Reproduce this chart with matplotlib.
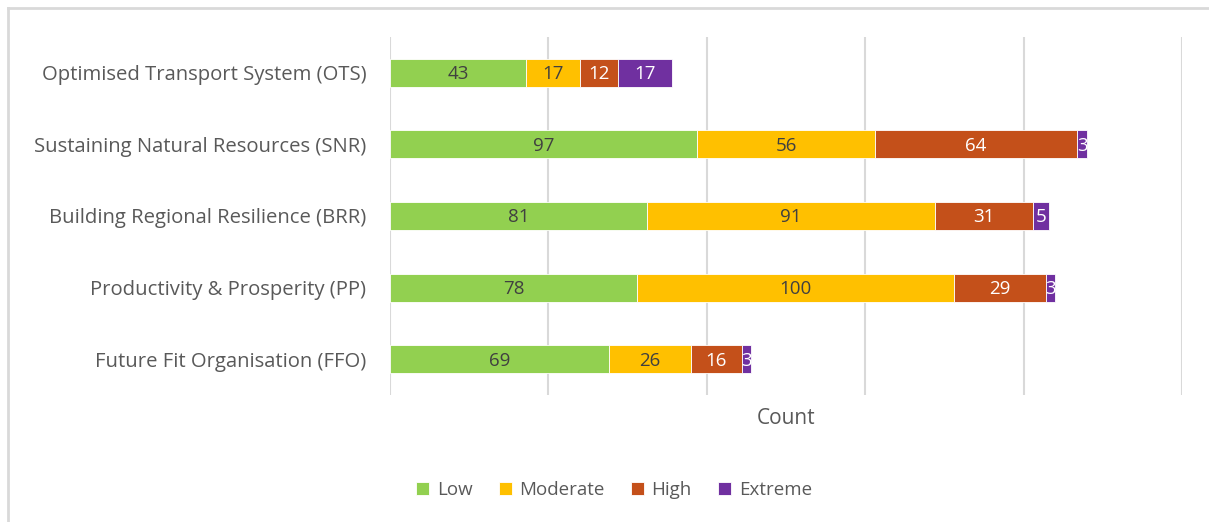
import matplotlib
matplotlib.use("Agg")
import matplotlib.pyplot as plt
from matplotlib.lines import Line2D
import numpy as np

plt.rcParams['font.family'] = ['Open Sans', 'DejaVu Sans']

categories = [
    "Optimised Transport System (OTS)",
    "Sustaining Natural Resources (SNR)",
    "Building Regional Resilience (BRR)",
    "Productivity & Prosperity (PP)",
    "Future Fit Organisation (FFO)",
]
low = [43, 97, 81, 78, 69]
moderate = [17, 56, 91, 100, 26]
high = [12, 64, 31, 29, 16]
extreme = [17, 3, 5, 3, 3]

series = [
    ("Low", low, "#92D050", "#404040"),
    ("Moderate", moderate, "#FFC000", "#404040"),
    ("High", high, "#C4501A", "white"),
    ("Extreme", extreme, "#7030A0", "white"),
]

fig = plt.figure(figsize=(12.09, 5.22), dpi=100)
ax = fig.add_axes([390 / 1209, 1 - 395 / 522, (1182 - 390) / 1209, (395 - 37) / 522])

# chart area frame, only top and left edges are inside the image
fx, fy = 7.5 / 1209, 1 - 7.5 / 522
fig.lines.append(Line2D([fx, 1.0], [fy, fy], transform=fig.transFigure,
                        color="#d9d9d9", linewidth=2))
fig.lines.append(Line2D([fx, fx], [0.0, fy], transform=fig.transFigure,
                        color="#d9d9d9", linewidth=2))

y = np.arange(len(categories))
left = np.zeros(len(categories))
for name, vals, col, tcol in series:
    vals = np.array(vals)
    bars = ax.barh(y, vals, left=left, height=0.39, color=col, label=name,
                   edgecolor="white", linewidth=0.6, zorder=3)
    for b, v in zip(bars, vals):
        ax.text(b.get_x() + b.get_width() / 2, b.get_y() + b.get_height() / 2 + 0.02,
                str(v), ha="center", va="center", color=tcol, fontsize=13.5,
                zorder=4)
    left += vals

ax.set_xlim(0, 250)
ax.set_ylim(len(categories) - 0.5, -0.5)
ax.set_xticks(np.arange(0, 251, 50))
ax.set_xticklabels([])
ax.tick_params(axis="x", length=0)
ax.tick_params(axis="y", length=0, labelsize=14.6, labelcolor="#595959", pad=17)
ax.set_yticks(y)
ax.set_yticklabels(categories)
ax.grid(axis="x", color="#d9d9d9", linewidth=1.5, zorder=0)
for s in ax.spines.values():
    s.set_visible(False)

fig.text(786 / 1209, 1 - 419 / 522, "Count", ha="center", va="center",
         fontsize=15, color="#595959")

handles, labels = ax.get_legend_handles_labels()
fig.legend(handles, labels, loc="center", bbox_to_anchor=(614 / 1209, 1 - 490 / 522),
           ncol=4, frameon=False, fontsize=13.5, labelcolor="#595959",
           handlelength=0.7, handleheight=0.7, handletextpad=0.4, columnspacing=1.4)

fig.savefig("out.png", dpi=100)
